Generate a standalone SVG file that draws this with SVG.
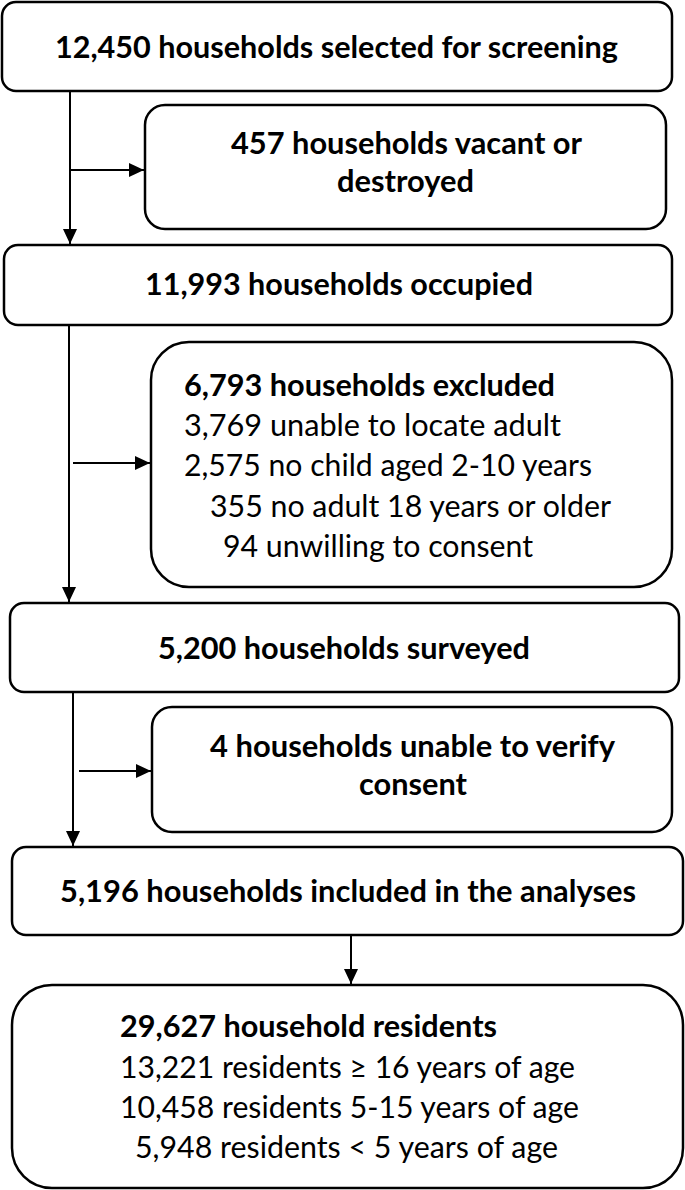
<svg xmlns="http://www.w3.org/2000/svg" width="685" height="1190" viewBox="0 0 685 1190">
<defs>
<marker id="ah" markerUnits="userSpaceOnUse" markerWidth="16" markerHeight="14" refX="15" refY="7" orient="auto">
<path d="M0,0 L15,7 L0,14 z" fill="#000"/>
</marker>
<style>
.box{fill:#fff;stroke:#000;stroke-width:2.5}
.t{font-family:Lato,"Open Sans","Liberation Sans",sans-serif;font-size:30px;fill:#000}
.b{font-weight:bold}
.c{stroke:#000;stroke-width:2;fill:none}
</style>
</defs>
<rect width="685" height="1190" fill="#fff"/>
<g id="connectors">
<path class="c" d="M70,91 V244" marker-end="url(#ah)"/>
<path class="c" d="M70,170 H144" marker-end="url(#ah)"/>
<path class="c" d="M69,325 V602" marker-end="url(#ah)"/>
<path class="c" d="M73,463 H150" marker-end="url(#ah)"/>
<path class="c" d="M73,692 V846" marker-end="url(#ah)"/>
<path class="c" d="M79,771 H151" marker-end="url(#ah)"/>
<path class="c" d="M351,935 V984" marker-end="url(#ah)"/>
</g>
<g id="n1">
<rect class="box" x="2" y="2" width="670" height="89" rx="14"/>
<text class="t b" x="55" y="58" textLength="563" lengthAdjust="spacingAndGlyphs">12,450 households selected for screening</text>
</g>
<g id="n2">
<rect class="box" x="145" y="105" width="521" height="124" rx="20"/>
<text class="t b" x="231" y="154" textLength="351" lengthAdjust="spacingAndGlyphs">457 households vacant or</text>
<text class="t b" x="337" y="192" textLength="137" lengthAdjust="spacingAndGlyphs">destroyed</text>
</g>
<g id="n3">
<rect class="box" x="4" y="245" width="668" height="80" rx="14"/>
<text class="t b" x="145" y="295" textLength="388" lengthAdjust="spacingAndGlyphs">11,993 households occupied</text>
</g>
<g id="n4">
<rect class="box" x="151" y="342" width="521" height="245" rx="38"/>
<text class="t b" x="184" y="396" textLength="371" lengthAdjust="spacingAndGlyphs">6,793 households excluded</text>
<text class="t" x="184" y="436" textLength="377" lengthAdjust="spacingAndGlyphs">3,769 unable to locate adult</text>
<text class="t" x="184" y="476" textLength="408" lengthAdjust="spacingAndGlyphs">2,575 no child aged 2-10 years</text>
<text class="t" x="210" y="517" textLength="401" lengthAdjust="spacingAndGlyphs">355 no adult 18 years or older</text>
<text class="t" x="223" y="557" textLength="310" lengthAdjust="spacingAndGlyphs">94 unwilling to consent</text>
</g>
<g id="n5">
<rect class="box" x="10" y="603" width="669" height="89" rx="14"/>
<text class="t b" x="158" y="659" textLength="372" lengthAdjust="spacingAndGlyphs">5,200 households surveyed</text>
</g>
<g id="n6">
<rect class="box" x="152" y="707" width="520" height="125" rx="20"/>
<text class="t b" x="210" y="757" textLength="405" lengthAdjust="spacingAndGlyphs">4 households unable to verify</text>
<text class="t b" x="359" y="795" textLength="108" lengthAdjust="spacingAndGlyphs">consent</text>
</g>
<g id="n7">
<rect class="box" x="12" y="847" width="671" height="88" rx="14"/>
<text class="t b" x="60" y="902" textLength="576" lengthAdjust="spacingAndGlyphs">5,196 households included in the analyses</text>
</g>
<g id="n8">
<rect class="box" x="12" y="985" width="671" height="203" rx="40"/>
<text class="t b" x="120" y="1037" textLength="377" lengthAdjust="spacingAndGlyphs">29,627 household residents</text>
<text class="t" x="120" y="1078" textLength="455" lengthAdjust="spacingAndGlyphs">13,221 residents ≥ 16 years of age</text>
<text class="t" x="120" y="1118" textLength="459" lengthAdjust="spacingAndGlyphs">10,458 residents 5-15 years of age</text>
<text class="t" x="135" y="1158" textLength="423" lengthAdjust="spacingAndGlyphs">5,948 residents &lt; 5 years of age</text>
</g>
</svg>
